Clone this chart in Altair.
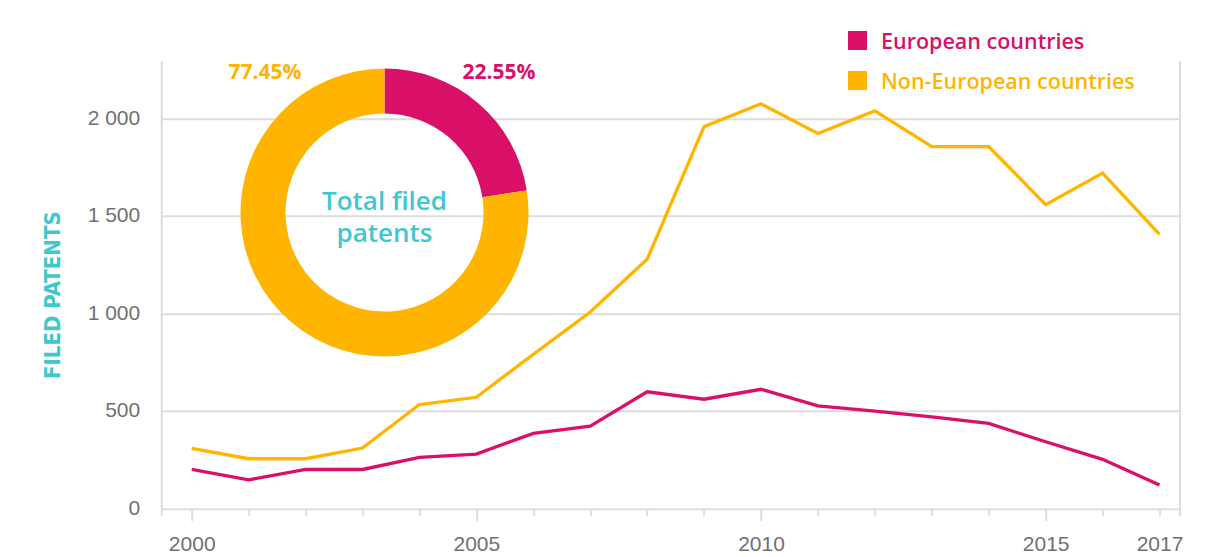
import altair as alt
import pandas as pd

# ---------------- data ----------------
years = list(range(2000, 2018))
european = [200, 147, 200, 200, 262, 279, 385, 422, 598, 560, 611, 526, 499, 470, 436, 342, 252, 120]
non_european = [308, 255, 255, 310, 533, 570, 790, 1007, 1277, 1957, 2074, 1922, 2038, 1855, 1855, 1557, 1719, 1405]
series = ["European countries", "Non-European countries"]
share = [22.55, 77.45]
labeled_years = [2000, 2005, 2010, 2015, 2017]
y_ticks = [0, 500, 1000, 1500, 2000]
center_text = ["Total filed", "patents"]

PINK = "#da1068"
YELLOW = "#ffb500"
CYAN = "#3ec8cd"
GRID = "#dddddd"
LABEL = "#707072"
AXFONT = "Liberation Sans"
TXTFONT = "Open Sans"
TITLEFONT = "Liberation Sans Narrow, DejaVu Sans Condensed, Roboto"

W = 1018.3
H = 447.8

lines_df = pd.DataFrame({
    "year": years * 2,
    "value": european + non_european,
    "series": [series[0]] * len(years) + [series[1]] * len(years),
})
share_df = pd.DataFrame({"series": series, "share": share, "order": [0, 1]})
one_df = pd.DataFrame({"k": [0]})  # single row for annotation marks

color_scale = alt.Scale(domain=series, range=[PINK, YELLOW])

big_ticks = "indexof([2000,2005,2010,2015], datum.value) >= 0"
lab_test = "indexof([" + ",".join(str(v) for v in labeled_years) + "], datum.value) >= 0"

lines = alt.Chart(lines_df).mark_line(strokeWidth=3.3).encode(
    x=alt.X("year:Q",
            scale=alt.Scale(domain=[1999.473, 2017.36], nice=False, zero=False),
            axis=alt.Axis(values=years, title=None, grid=False, domain=False,
                          ticks=True, tickColor=GRID, tickWidth=2,
                          tickSize={"condition": {"test": big_ticks, "value": 12}, "value": 7},
                          labelPadding={"condition": {"test": big_ticks, "value": 13}, "value": 18},
                          labelExpr=lab_test + " ? '' + datum.value : ''",
                          labelFont=AXFONT, labelFontSize=21, labelColor=LABEL,
                          labelBaseline="top",
                          labelOverlap=False, labelFlush=False)),
    y=alt.Y("value:Q",
            scale=alt.Scale(domain=[0, 2295], nice=False),
            axis=alt.Axis(values=y_ticks, title="FILED PATENTS", grid=True,
                          gridColor=GRID, gridWidth=2, domain=False, ticks=False,
                          labelExpr="replace(format(datum.value, ','), ',', ' ')",
                          labelFont=AXFONT, labelFontSize=21, labelColor=LABEL,
                          labelPadding=22,
                          titleFont=TITLEFONT, titleFontSize=22, titleFontWeight="bold",
                          titleColor=CYAN, titleAngle=270, titleX=-109.5, titleY=234,
                          titleAlign="center", titleBaseline="middle")),
    color=alt.Color("series:N", scale=color_scale, legend=None),
)

left_rule = alt.Chart(one_df).mark_rule(color=GRID, strokeWidth=2).encode(
    x=alt.value(0), y=alt.value(0), y2=alt.value(H + 8))
right_rule = alt.Chart(one_df).mark_rule(color=GRID, strokeWidth=2).encode(
    x=alt.value(W), y=alt.value(0), y2=alt.value(H + 8))

CX, CY = 222.8, 151.8
donut = alt.Chart(share_df).mark_arc(innerRadius=99, outerRadius=144).encode(
    theta=alt.Theta("share:Q", stack=True),
    order=alt.Order("order:Q"),
    color=alt.Color("series:N", scale=color_scale, legend=None),
    x=alt.value(CX), y=alt.value(CY),
)

center_layers = []
for j, line in enumerate(center_text):
    center_layers.append(
        alt.Chart(one_df).mark_text(
            font=TXTFONT, fontSize=26, fontWeight=600, color=CYAN, align="center",
            baseline="middle",
        ).encode(text=alt.value(line), x=alt.value(CX), y=alt.value(CY - 10.5 + 32 * j)))

pct_eu = alt.Chart(one_df).mark_text(
    font=TXTFONT, fontSize=21, fontWeight="bold", color=PINK, align="center", baseline="middle"
).encode(text=alt.value(f"{share[0]:.2f}%"), x=alt.value(337.3), y=alt.value(12.3))
pct_ne = alt.Chart(one_df).mark_text(
    font=TXTFONT, fontSize=21, fontWeight="bold", color=YELLOW, align="center", baseline="middle"
).encode(text=alt.value(f"{share[1]:.2f}%"), x=alt.value(103.3), y=alt.value(12.3))

leg_layers = []
for i, (name, col) in enumerate(zip(series, [PINK, YELLOW])):
    yy = -20.2 + 40 * i
    leg_layers.append(
        alt.Chart(one_df).mark_square(size=361, color=col, opacity=1).encode(
            x=alt.value(695.8), y=alt.value(yy)))
    leg_layers.append(
        alt.Chart(one_df).mark_text(
            font=TXTFONT, fontSize=21.5, fontWeight=600, color=col, align="left",
            baseline="alphabetic").encode(
            text=alt.value(name), x=alt.value(719.3), y=alt.value(yy + 8.5)))

chart = alt.layer(
    lines, left_rule, right_rule, donut, *center_layers, pct_eu, pct_ne, *leg_layers
).properties(
    width=W, height=H,
    padding={"left": 153.7, "top": 52.7, "right": 30, "bottom": 45},
    autosize=alt.AutoSizeParams(type="none"),
    background="white",
).configure_view(stroke=None)

chart.save("out.html", embed_options={"renderer": "svg", "actions": False})
